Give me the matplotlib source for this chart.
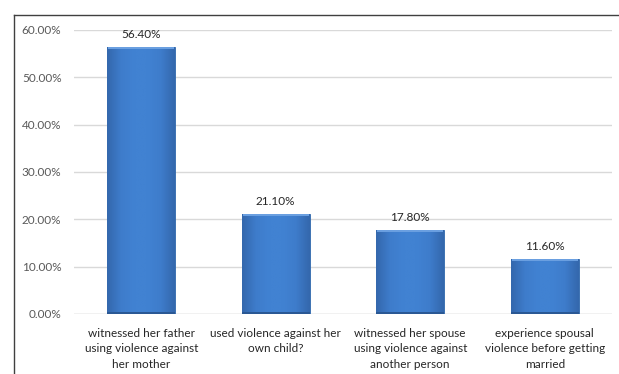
import numpy as np
import matplotlib
matplotlib.use('Agg')
import matplotlib.pyplot as plt
from matplotlib.lines import Line2D
from matplotlib.colors import LinearSegmentedColormap

categories = [
    'witnessed her father\nusing violence against\nher mother',
    'used violence against her\nown child?',
    'witnessed her spouse\nusing violence against\nanother person',
    'experience spousal\nviolence before getting\nmarried',
]
values = [0.564, 0.211, 0.178, 0.116]
yticks = [0.0, 0.1, 0.2, 0.3, 0.4, 0.5, 0.6]

plt.rcParams['font.family'] = ['Lato', 'DejaVu Sans']

fig = plt.figure(figsize=(6.19, 3.74), dpi=100)
fig.patch.set_facecolor('white')
ax = fig.add_axes([74 / 619, 1 - 314 / 374, (612 - 74) / 619, (314 - 30) / 374])

# chart frame (clipped at the right and bottom of the picture)
fig.add_artist(Line2D([14 / 619, 14 / 619], [1 - 15 / 374, -0.1], color='#404040', lw=1.0))
fig.add_artist(Line2D([14 / 619, 1.1], [1 - 15 / 374, 1 - 15 / 374], color='#404040', lw=1.0))

x = np.arange(len(values))
bars = ax.bar(x, values, width=0.505, color='#3f7ecb', edgecolor='#2f67ab', linewidth=0.6, zorder=3)

# soft bevel shading on each bar
cmap = LinearSegmentedColormap.from_list('bev', ['#3468ad', '#3e7ccb', '#4182d2', '#4182d2', '#3e7ccb', '#3468ad'])
grad = np.tile(np.linspace(0, 1, 64), (64, 1))
for b in bars:
    bx, by = b.get_x(), b.get_y()
    w, h = b.get_width(), b.get_height()
    im = ax.imshow(grad, cmap=cmap, extent=(bx, bx + w, by, by + h), aspect='auto', zorder=3.5, interpolation='bicubic')
    im.set_clip_path(b)
    ax.bar(bx + w / 2, 0.005, width=w * 0.97, bottom=by + h - 0.005, color='#6a9fe0', linewidth=0, zorder=4)
    ax.bar(bx + w / 2, 0.004, width=w, bottom=by, color='#2a5894', linewidth=0, zorder=4)

for xi, v in zip(x, values):
    ax.annotate(f'{v * 100:.2f}%', (xi, v), xytext=(0, 7), textcoords='offset pixels',
                ha='center', va='bottom', fontsize=8.5, color='#262626')

ax.set_xlim(-0.5, len(values) - 0.5)
ax.set_ylim(0, 0.6)
ax.set_yticks(yticks)
ax.set_yticklabels([f'{t * 100:.2f}%' for t in yticks], fontsize=8.5, color='#595959')
ax.set_xticks(x)
ax.set_xticklabels(categories, fontsize=8.5, color='#262626', linespacing=1.5)
ax.tick_params(axis='both', length=0)
ax.tick_params(axis='y', pad=9)
ax.tick_params(axis='x', pad=10)
ax.grid(axis='y', color='#d9d9d9', linewidth=1, zorder=0)
ax.set_axisbelow(True)
for s in ax.spines.values():
    s.set_visible(False)
ax.axhline(0, color='#d9d9d9', linewidth=1, zorder=1)

fig.savefig('out.png', dpi=100)
